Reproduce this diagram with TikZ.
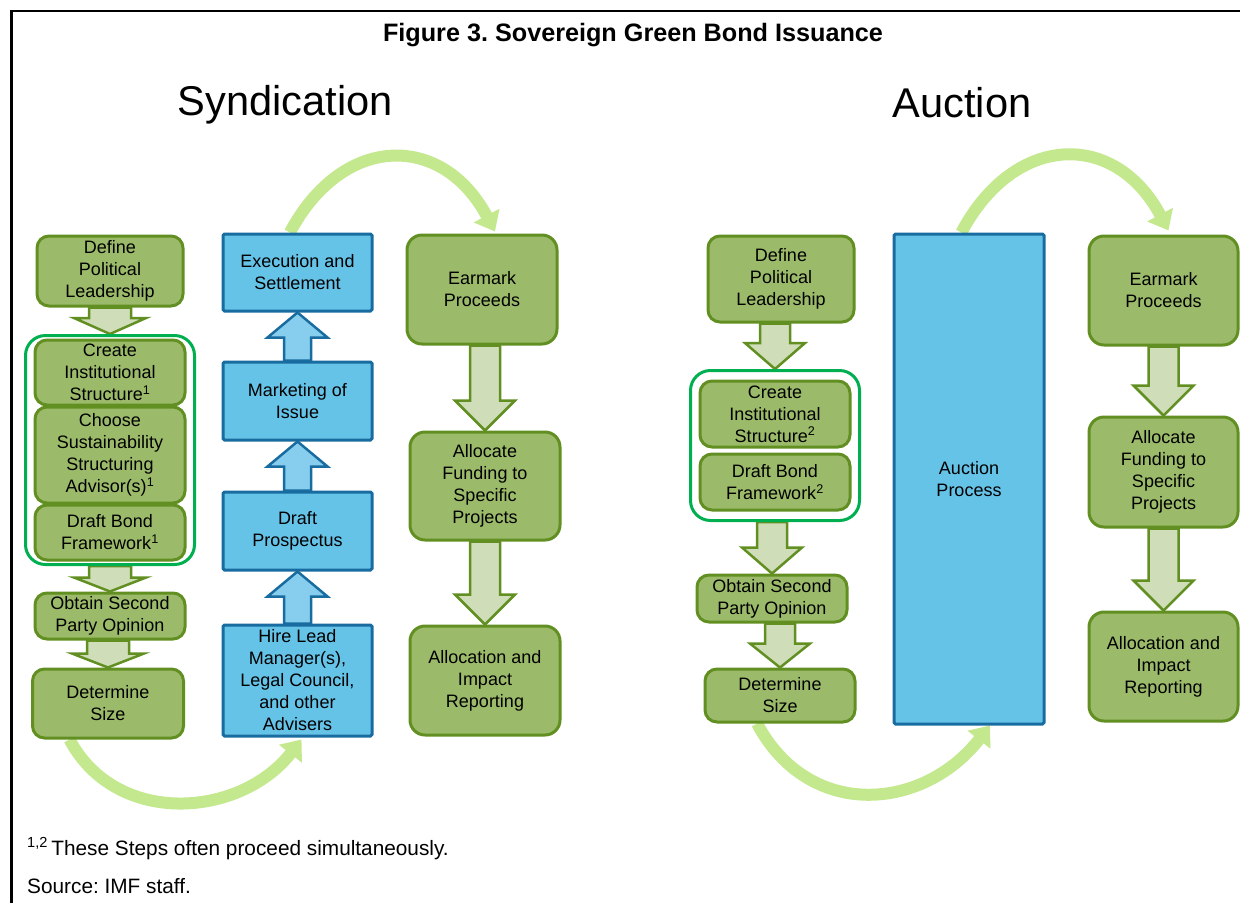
\documentclass[tikz,border=0pt]{standalone}
\usepackage{fontspec}
\setmainfont{Liberation Sans}
\usetikzlibrary{calc,fit,backgrounds,arrows.meta}
\frenchspacing

\definecolor{stepgreen}{RGB}{156,187,106}
\definecolor{stepgreenline}{RGB}{98,143,34}
\definecolor{arrowsage}{RGB}{208,221,185}
\definecolor{stepblue}{RGB}{102,195,232}
\definecolor{stepblueline}{RGB}{24,108,160}
\definecolor{arrowblue}{RGB}{135,206,238}
\definecolor{groupgreen}{RGB}{0,176,80}
\definecolor{swoopgreen}{RGB}{196,232,142}

\newcommand{\stepfont}{\fontsize{18}{22}\selectfont}

\tikzset{
  gbox/.style={draw=stepgreenline, fill=stepgreen, line width=3pt, rounded corners=12pt,
    align=center, inner sep=0pt, font=\stepfont},
  bbox/.style={draw=stepblueline, fill=stepblue, line width=3pt, rounded corners=1.5pt,
    align=center, inner sep=0pt, font=\stepfont},
  grp/.style={draw=groupgreen, line width=3pt, rounded corners=20pt, inner xsep=8pt, inner ysep=3pt},
  garrow/.style={draw=stepgreenline, fill=arrowsage, line width=2.5pt},
  barrow/.style={draw=stepblueline, fill=arrowblue, line width=2.5pt},
  swoop/.style={draw=swoopgreen, line width=12pt, -{Triangle[width=28pt,length=18pt]}},
}

% block arrow: style, from, to, shaft half, head half, head length
\newcommand{\blockarrow}[6]{%
  \draw[#1] let \p1=(#2), \p2=(#3), \n1={sign(\y1-\y2)} in
    (\x2-#4,\y1) -- (\x2-#4,{\y2+\n1*#6}) -- (\x2-#5,{\y2+\n1*#6}) -- (\x2,\y2)
    -- (\x2+#5,{\y2+\n1*#6}) -- (\x2+#4,{\y2+\n1*#6}) -- (\x2+#4,\y1) -- cycle;}

\begin{document}
\begin{tikzpicture}[x=1pt,y=-1pt]
\useasboundingbox (0,0) rectangle (1240,903);

% frame and headings
\draw[line width=2.5pt] (11.5,903) -- (11.5,11) -- (1240,11);
\node[font=\bfseries\fontsize{25.2}{30}\selectfont] (title) at (633,35) {Figure 3. Sovereign Green Bond Issuance};
\node[font=\fontsize{41.6}{50}\selectfont] (synd) at (285,105) {Syndication};
\node[font=\fontsize{41.6}{50}\selectfont] (auct) at (962,103) {Auction};

% syndication, first column
\node[gbox, minimum width=146pt, minimum height=70pt] (sdef) at (110,271) {Define\\Political\\Leadership};
\node[gbox, minimum width=150pt, minimum height=65pt] (screate) at (110,372.5) {Create\\Institutional\\Structure\textsuperscript{1}};
\node[gbox, minimum width=150pt, minimum height=96pt] (schoose) at (110,455) {Choose\\Sustainability\\Structuring\\Advisor(s)\textsuperscript{1}};
\node[gbox, minimum width=150pt, minimum height=55pt] (sdraft) at (110,532.5) {Draft Bond\\Framework\textsuperscript{1}};
\node[grp, fit=(screate)(sdraft)] (sgrp) {};
\node[gbox, minimum width=150pt, minimum height=46pt] (sobtain) at (110,616) {Obtain Second\\Party Opinion};
\node[gbox, minimum width=151pt, minimum height=69pt] (sdet) at (108,703.5) {Determine\\Size};

% syndication, second column
\node[bbox, minimum width=149pt, minimum height=77pt] (sexec) at (297.5,272.5) {Execution and\\Settlement};
\node[bbox, minimum width=149pt, minimum height=78pt] (smkt) at (297.5,401) {Marketing of\\Issue};
\node[bbox, minimum width=149pt, minimum height=78pt] (sprosp) at (297.5,531) {Draft\\Prospectus};
\node[bbox, minimum width=149pt, minimum height=111pt] (shire) at (297.5,680.5) {Hire Lead\\Manager(s),\\Legal Council,\\and other\\Advisers};

% syndication, third column
\node[gbox, rounded corners=15pt, minimum width=150pt, minimum height=109pt] (searmark) at (482,289.5) {Earmark\\Proceeds};
\node[gbox, rounded corners=15pt, minimum width=150pt, minimum height=108pt] (salloc) at (485,486) {Allocate\\Funding to\\Specific\\Projects};
\node[gbox, rounded corners=15pt, minimum width=150pt, minimum height=109pt] (sreport) at (485,680.5) {Allocation and\\Impact\\Reporting};

% auction, first column
\node[gbox, minimum width=146pt, minimum height=86pt] (adef) at (781,279) {Define\\Political\\Leadership};
\node[gbox, minimum width=150pt, minimum height=66pt] (acreate) at (775,414) {Create\\Institutional\\Structure\textsuperscript{2}};
\node[gbox, minimum width=150pt, minimum height=56pt] (adraft) at (775,482) {Draft Bond\\Framework\textsuperscript{2}};
\node[grp, inner ysep=9pt, fit=(acreate)(adraft)] (agrp) {};
\node[gbox, minimum width=150pt, minimum height=47pt] (aobtain) at (772,598.5) {Obtain Second\\Party Opinion};
\node[gbox, minimum width=150pt, minimum height=53pt] (adet) at (780,695.5) {Determine\\Size};

% auction, second and third column
\node[bbox, minimum width=150pt, minimum height=490pt] (aproc) at (969,479) {Auction\\Process};
\node[gbox, rounded corners=15pt, minimum width=149pt, minimum height=109pt] (aearmark) at (1163.5,290.5) {Earmark\\Proceeds};
\node[gbox, rounded corners=15pt, minimum width=149pt, minimum height=110pt] (aalloc) at (1163.5,472) {Allocate\\Funding to\\Specific\\Projects};
\node[gbox, rounded corners=15pt, minimum width=149pt, minimum height=109pt] (areport) at (1163.5,666.5) {Allocation and\\Impact\\Reporting};

% notes
\node[anchor=base west, inner sep=0pt, font=\fontsize{20.8}{25}\selectfont] (note) at (27,855) {\textsuperscript{1,2}\,These Steps often proceed simultaneously.};
\node[anchor=base west, inner sep=0pt, font=\fontsize{20.8}{25}\selectfont] (source) at (27,893) {Source: IMF staff.};

\begin{scope}[on background layer]
  \blockarrow{garrow}{sdef.south}{sgrp.north}{21pt}{36pt}{16pt}
  \blockarrow{garrow}{sgrp.south}{sobtain.north}{21pt}{36pt}{14pt}
  \blockarrow{garrow}{sobtain.south}{sdet.north}{21pt}{36pt}{14pt}
  \blockarrow{barrow}{shire.north}{sprosp.south}{13.5pt}{30pt}{25pt}
  \blockarrow{barrow}{sprosp.north}{smkt.south}{13.5pt}{30pt}{25pt}
  \blockarrow{barrow}{smkt.north}{sexec.south}{13.5pt}{30pt}{25pt}
  \blockarrow{garrow}{searmark.south}{salloc.north}{15pt}{30pt}{30pt}
  \blockarrow{garrow}{salloc.south}{sreport.north}{15pt}{30pt}{30pt}
  \blockarrow{garrow}{adef.south}{agrp.north}{15pt}{30pt}{26pt}
  \blockarrow{garrow}{agrp.south}{aobtain.north}{15pt}{30pt}{26pt}
  \blockarrow{garrow}{aobtain.south}{adet.north}{15pt}{30pt}{24pt}
  \blockarrow{garrow}{aearmark.south}{aalloc.north}{15pt}{30pt}{30pt}
  \blockarrow{garrow}{aalloc.south}{areport.north}{15pt}{30pt}{30pt}

  % swoops between columns
  \draw[swoop] ($(sdet.south west)!0.25!(sdet.south east)$) to[out=-62,in=-128,looseness=1.1] ($(shire.south)+(4,2)$);
  \draw[swoop] ($(sexec.north west)!0.45!(sexec.north east)$) to[out=62,in=118,looseness=1.4] ($(searmark.north)+(13,-2)$);
  \draw[swoop] ($(adet.south west)!0.35!(adet.south east)$) to[out=-62,in=-128,looseness=1.2] ($(aproc.south)+(21,0)$);
  \draw[swoop] ($(aproc.north west)!0.45!(aproc.north east)$) to[out=62,in=118,looseness=1.4] ($(aearmark.north)+(5,-4)$);
\end{scope}
\end{tikzpicture}
\end{document}
